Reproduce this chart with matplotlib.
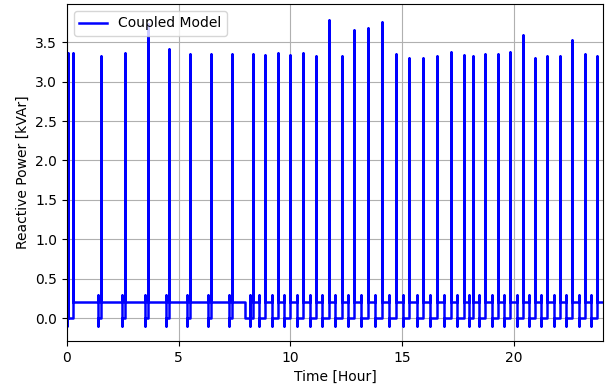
import matplotlib
matplotlib.use("Agg")
import matplotlib.pyplot as plt

# Spike events (time in hours, peak in kVAr)
spike_times = [0.04, 0.26, 1.54, 2.61, 3.63, 4.58, 5.52, 6.45, 7.39,
               8.32, 8.88, 9.44, 10.00, 10.56, 11.15, 11.72, 12.30, 12.87,
               13.49, 14.12, 14.72, 15.33, 15.96, 16.56, 17.18, 17.78, 18.17,
               18.72, 19.29, 19.84, 20.41, 20.96, 21.51, 22.08, 22.63, 23.20, 23.75]
spike_peaks = [3.36, 3.36, 3.32, 3.36, 3.73, 3.41, 3.35, 3.35, 3.35,
               3.35, 3.34, 3.36, 3.34, 3.36, 3.33, 3.78, 3.33, 3.66,
               3.68, 3.75, 3.35, 3.30, 3.30, 3.32, 3.37, 3.34, 3.33,
               3.35, 3.35, 3.37, 3.59, 3.30, 3.32, 3.33, 3.53, 3.35, 3.32]
spike_after = [0.0] + [0.2] * 36

# Dip events: brief swing 0.3 -> -0.1, then level 0.0
dip_times = [0.0, 1.40, 2.47, 3.49, 4.44, 5.38, 6.31, 7.25, 8.20,
             8.60, 9.16, 9.72, 10.28, 10.86, 11.44, 12.01, 12.59, 13.18,
             13.81, 14.42, 15.03, 15.65, 16.26, 16.87, 17.48, 17.98, 18.45,
             19.01, 19.57, 20.13, 20.69, 21.24, 21.80, 22.36, 22.92, 23.48]
dip_high = 0.3
dip_low = -0.1
dip_level = 0.0

# Plain step 0.2 -> 0.0
step_times = [7.97]
step_level = 0.0

t_end = 24.0

events = []
for t, p, a in zip(spike_times, spike_peaks, spike_after):
    events.append((t, [p, a]))
for t in dip_times:
    events.append((t, [dip_high, dip_low, dip_level]))
for t in step_times:
    events.append((t, [step_level]))
events.sort(key=lambda e: e[0])

xs, ys = [], []
cur = None
for t, vals in events:
    if cur is not None:
        xs.append(t); ys.append(cur)
    for v in vals:
        xs.append(t); ys.append(v)
    cur = vals[-1]
xs.append(t_end); ys.append(cur)

fig = plt.figure(figsize=(6.05, 3.92), dpi=100)
ax = fig.add_axes([0.1107, 0.130, 0.8860, 0.860])
ax.plot(xs, ys, color='blue', linewidth=1.8, label='Coupled Model')
ax.set_xlim(0, 24)
ax.set_ylim(-0.29, 3.985)
ax.set_xticks([0, 5, 10, 15, 20])
ax.set_yticks([0.0, 0.5, 1.0, 1.5, 2.0, 2.5, 3.0, 3.5])
ax.grid(True)
ax.set_xlabel('Time [Hour]')
ax.set_ylabel('Reactive Power [kVAr]')
ax.legend(loc='upper left')
fig.savefig('out.png', dpi=100)
